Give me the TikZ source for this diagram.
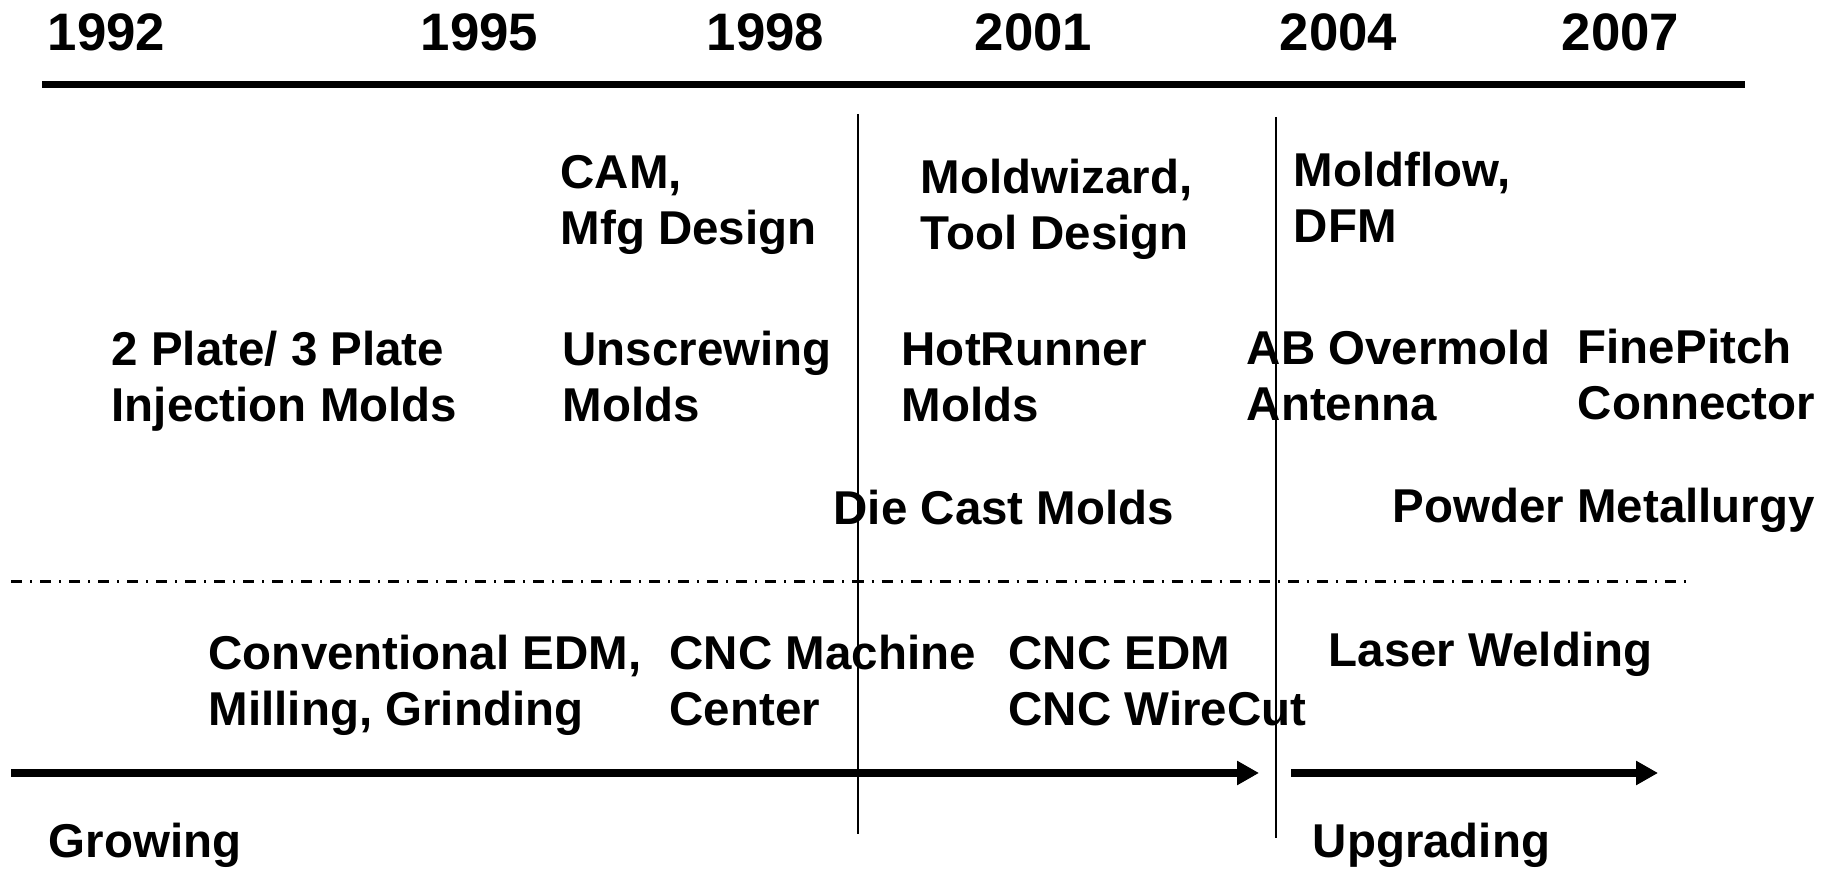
\documentclass[tikz,border=0pt]{standalone}
\usepackage{fontspec}
\setmainfont{Liberation Sans}
\usetikzlibrary{arrows.meta,positioning}
\tikzset{
    entry/.style={anchor=base west, inner sep=0pt, align=left,
        font=\bfseries\fontsize{13.5}{16.2}\selectfont}, % milestone texts (base = last line)
    year/.style={anchor=base west, inner sep=0pt,
        font=\bfseries\fontsize{15}{18}\selectfont},
    timerule/.style={line width=0.7mm},
    divider/.style={line width=0.18mm},
    splitline/.style={line width=0.35mm, dash pattern=on 1.1mm off 0.8mm on 0.2mm off 0.8mm},
    phase/.style={line width=0.8mm, -{Triangle[length=2.2mm,width=2.3mm]}},
}

\begin{document}
\begin{tikzpicture}[x=0.01cm,y=-0.01cm]
  \useasboundingbox (0,0) rectangle (1840,871);

  % years
  \node[year] (y1992) at (47,51)   {1992};
  \node[year] (y1995) at (420,51)  {1995};
  \node[year] (y1998) at (706,51)  {1998};
  \node[year] (y2001) at (974,51)  {2001};
  \node[year] (y2004) at (1279,51) {2004};
  \node[year] (y2007) at (1561,51) {2007};

  \coordinate (r0) at (42,84.5);
  \coordinate (r1) at (1745,84.5);
  \draw[timerule] (r0) -- (r1);

  % design tools
  \node[entry] (cam)      at (560,245)  {CAM,\\Mfg Design};
  \node[entry] (moldwiz)  at (920,250)  {Moldwizard,\\Tool Design};
  \node[entry] (moldflow) at (1293,243) {Moldflow,\\DFM};

  % mold types
  \node[entry] (plate)     at (111,422)  {2 Plate/ 3 Plate\\Injection Molds};
  \node[entry] (unscrew)   at (562,422)  {Unscrewing\\Molds};
  \node[entry] (hotrun)    at (901,422)  {HotRunner\\Molds};
  \node[entry] (overmold)  at (1246,421) {AB Overmold\\Antenna};
  \node[entry] (finepitch) at (1577,420) {FinePitch\\Connector};
  \node[entry] (diecast)   at (833,525)  {Die Cast Molds};
  \node[entry] (powder)    at (1392,523) {Powder Metallurgy};

  \coordinate (s0) at (11,581.5);
  \coordinate (s1) at (1691,581.5);
  \draw[splitline] (s0) -- (s1);

  % machines
  \node[entry] (conv)   at (208,726)  {Conventional EDM,\\Milling, Grinding};
  \node[entry] (cncmc)  at (669,726)  {CNC Machine\\Center};
  \node[entry] (cncedm) at (1008,726) {CNC EDM\\CNC WireCut};
  \node[entry] (laser)  at (1328,667) {Laser Welding};

  % phases
  \coordinate (g0) at (11,773);
  \coordinate (g1) at (1259,773);
  \coordinate (u0) at (1291,773);
  \coordinate (u1) at (1658,773);
  \draw[phase] (g0) -- (g1);
  \draw[phase] (u0) -- (u1);
  \node[entry] (growing)   at (48,858)   {Growing};
  \node[entry] (upgrading) at (1312,858) {Upgrading};

  % period borders
  \coordinate (a0) at (858,114);
  \coordinate (a1) at (858,834);
  \coordinate (b0) at (1276,117);
  \coordinate (b1) at (1276,838);
  \draw[divider] (a0) -- (a1);
  \draw[divider] (b0) -- (b1);
\end{tikzpicture}
\end{document}
